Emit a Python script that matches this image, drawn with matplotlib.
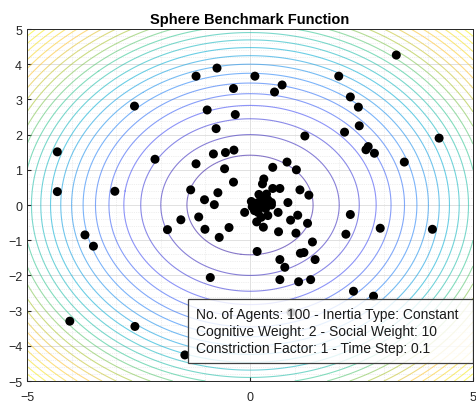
import numpy as np
import matplotlib
matplotlib.use("Agg")
import matplotlib.pyplot as plt
from matplotlib.colors import LinearSegmentedColormap
from matplotlib.patches import Rectangle
from matplotlib.ticker import MultipleLocator

plt.rcParams['font.family'] = ['Liberation Sans', 'DejaVu Sans']

# agent positions at the current iteration
agent_x = [-0.74, -1.21, -0.37, -2.59, -0.96, -0.33, -0.76, -4.32, -0.82, -0.55,
           -0.36, -2.13, -1.21, -0.57, -0.37, -4.32, -3.03, -1.33, -0.72,
           3.28, 0.11, 1.99, 0.72, 0.55, 2.25, 2.43, 2.45, 1.23, 2.12, 4.24,
           2.65, 2.60, 2.79, 3.46, 0.83, 0.51, 1.04, 0.67, 1.12, 1.32,
           0.31, 0.28, 0.51, 0.37, 0.29, 0.03, 0.18, 0.48, 0.85, 0.22,
           0.29, 0.48, 0.10, 0.18, -0.12, 0.63, 0.15, 0.30, -1.02, -0.80,
           -1.55, -1.15, 0.91, 1.07, 1.29, -1.85, -1.01, -0.47, -0.69, 0.64,
           1.03, 1.40, 0.16, 1.13, 1.21, 0.67, 0.78, 1.46, -0.89, 0.67,
           1.09, 1.36, 2.25, 2.92, 4.09, 2.15, 2.32, 2.77, -3.70, -3.51,
           -4.04, -2.58, -1.46, 0.92, 0.20, 0.40, 0.35, 0.05, 0.25, 0.40]
agent_y = [3.89, 3.66, 3.31, 2.81, 2.70, 2.57, 2.17, 1.51, 1.45, 1.49,
           1.56, 1.30, 1.17, 1.03, 0.65, 0.38, 0.39, 0.43, 0.35,
           4.26, 3.66, 3.66, 3.41, 3.21, 3.07, 2.78, 2.25, 1.96, 2.07, 1.90,
           1.66, 1.57, 1.47, 1.22, 1.22, 1.07, 1.00, 0.47, 0.43, 0.28,
           0.74, 0.60, 0.47, 0.31, 0.17, 0.10, 0.07, 0.07, 0.07, -0.07,
           0.00, 0.00, -0.16, -0.21, -0.21, -0.21, -0.48, -0.63, 0.15, 0.01,
           -0.42, -0.34, -0.43, -0.29, -0.52, -0.70, -0.69, -0.64, -0.92, -0.76,
           -0.80, -1.05, -1.32, -1.37, -1.35, -1.55, -1.77, -1.55, -2.06, -2.12,
           -2.18, -2.12, -0.27, -0.66, -0.69, -0.83, -2.45, -2.59, -0.85, -1.17,
           -3.30, -3.45, -4.26, -3.05, 0.30, 0.15, -0.10, -0.05, -0.35, -0.30]

contour_levels = np.arange(2, 51, 2)

n_agents = 100
inertia = "Constant"
cognitive_w = 2
social_w = 10
constriction = 1
time_step = 0.1

# parula-like colormap
parula = LinearSegmentedColormap.from_list("parula", [
    (0.2422, 0.1504, 0.6603), (0.2810, 0.3228, 0.9579), (0.1786, 0.5289, 0.9682),
    (0.0689, 0.6948, 0.8394), (0.2161, 0.7843, 0.5923), (0.6720, 0.7793, 0.2227),
    (0.9970, 0.7659, 0.2199), (0.9598, 0.8773, 0.1709), (0.9769, 0.9839, 0.0805)])

g = np.linspace(-5, 5, 401)
X, Y = np.meshgrid(g, g)
Z = X**2 + Y**2

fig = plt.figure(figsize=(4.76, 4.06), dpi=100)
ax = fig.add_axes([0.0567, 0.0591, 0.937, 0.867])

ax.contour(X, Y, Z, levels=contour_levels, cmap=parula, linewidths=0.8, alpha=0.62)
ax.scatter(agent_x, agent_y, s=42, color='black', zorder=3, edgecolors='none')

ax.set_xlim(-5, 5)
ax.set_ylim(-5, 5)
ax.set_xticks([-5, 0, 5])
ax.set_yticks(np.arange(-5, 6, 1))
ax.xaxis.set_minor_locator(MultipleLocator(1))
ax.yaxis.set_minor_locator(MultipleLocator(0.2))
ax.grid(True, which='major', color='#dcdcdc', linewidth=0.6)
ax.grid(True, which='minor', color='#e0e0e0', linewidth=0.5, linestyle=':')
ax.set_axisbelow(True)
ax.tick_params(which='both', direction='in', length=3, labelsize=9, colors='#262626')
ax.tick_params(axis='x', pad=7)
ax.tick_params(which='minor', length=0)
for s in ax.spines.values():
    s.set_color('#262626')
    s.set_linewidth(0.7)

ax.set_title("Sphere Benchmark Function", fontsize=10.5, fontweight='bold', pad=4)

# parameter box in the lower right corner
ax.add_patch(Rectangle((0.361, 0.051), 0.639, 0.182, transform=ax.transAxes,
                       facecolor='white', alpha=0.82, edgecolor='none', zorder=4))
ax.add_patch(Rectangle((0.361, 0.051), 0.639, 0.182, transform=ax.transAxes,
                       facecolor='none', edgecolor='#404040', linewidth=0.9, zorder=5))
info = (f"No. of Agents: {n_agents} - Inertia Type: {inertia}\n"
        f"Cognitive Weight: {cognitive_w} - Social Weight: {social_w}\n"
        f"Constriction Factor: {constriction} - Time Step: {time_step}")
ax.text(0.378, 0.142, info, transform=ax.transAxes, fontsize=10,
        linespacing=1.28, va='center', ha='left', zorder=6, color='#1a1a1a')

fig.savefig("out.png", dpi=100)
